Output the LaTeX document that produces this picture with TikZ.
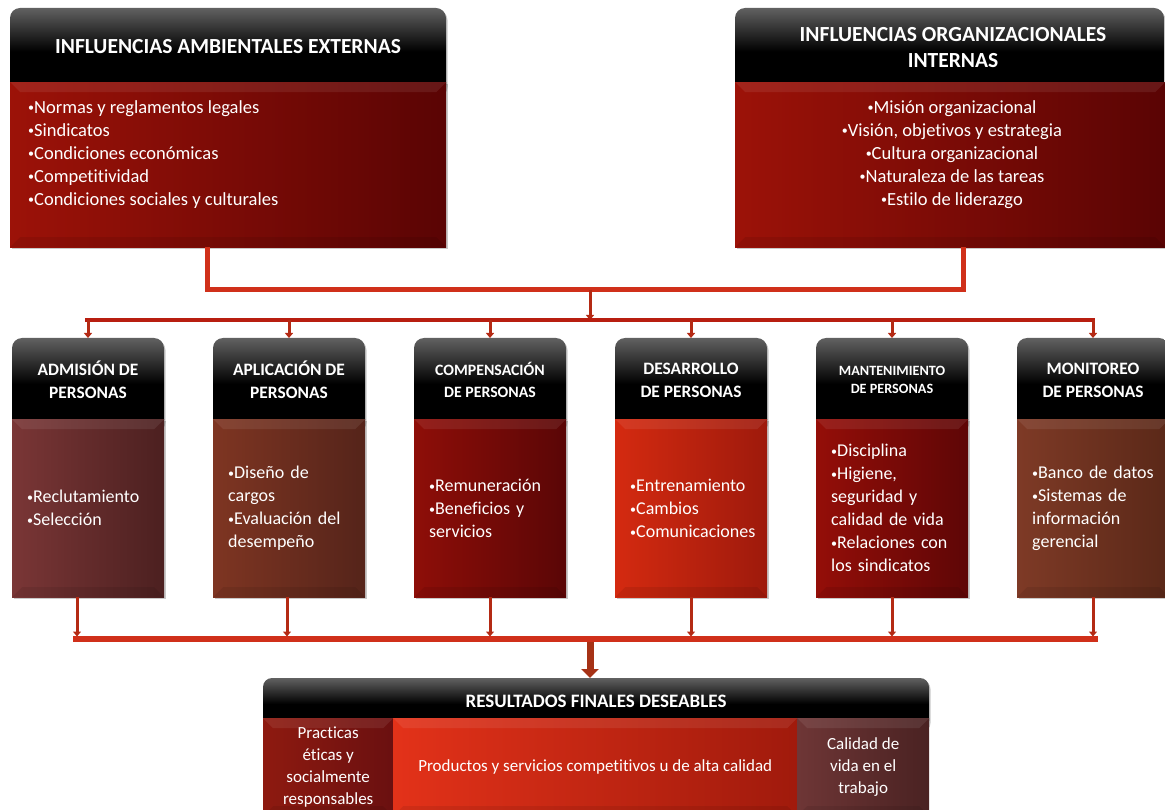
\documentclass[tikz,border=0pt]{standalone}
\usepackage{fontspec}
\setmainfont{Carlito}[Ligatures=NoCommon]
\usetikzlibrary{arrows.meta,shadows,calc}
\definecolor{lineA}{HTML}{D0301A}
\definecolor{lineB}{HTML}{B81E10}
\definecolor{arrowC}{HTML}{B42A14}
\definecolor{bigArrow}{HTML}{A63216}
\newcommand\bu{{\fontsize{12}{12}\selectfont\raisebox{1.2pt}{•}}}
\newcommand\rowbox[8]{%
  \shade[hdrshade,myshadow] (#2,430) -- (#2,338) -- (#2+152,338) -- (#2+152,430) -- cycle;
  \coordinate (t#1) at (#2+76,338);
  \node[hdrtext,font=#3] (h#1) at (#2+76,380) {#4};
  \node[rowbody,left color=#6,right color=#7,anchor=north west,myshadow] (b#1) at (#2,419) {#5};
  \coordinate (s#1) at (#2+76+#8,597);
}
\begin{document}
\begin{tikzpicture}[x=1pt,y=-1pt,
  myshadow/.style={drop shadow={shadow xshift=1.5pt,shadow yshift=-2pt,opacity=0.3,fill=black!70}},
  bevel/.style={path picture={
     \fill[white,opacity=0.08] (path picture bounding box.north west) -- (path picture bounding box.north east)
        -- ([xshift=-10pt,yshift=-10pt]path picture bounding box.north east) -- ([xshift=10pt,yshift=-10pt]path picture bounding box.north west) -- cycle;
     \fill[black,opacity=0.08] (path picture bounding box.south west) -- (path picture bounding box.south east)
        -- ([xshift=-10pt,yshift=10pt]path picture bounding box.south east) -- ([xshift=10pt,yshift=10pt]path picture bounding box.south west) -- cycle;}},
  hdrshade/.style={top color=black!62, bottom color=black, middle color=black, rounded corners=10pt},
  hdrtext/.style={text=white,align=center,inner sep=0pt},
  rowbody/.style={text=white,inner xsep=15pt,inner ysep=0pt,text width=122pt,align=left,bevel,
     minimum width=152pt,minimum height=178pt,font=\fontsize{18}{23}\selectfont},
  subbody/.style={text=white,inner sep=0pt,align=center,minimum height=98pt,anchor=north west,bevel,
     font=\fontsize{17}{22}\selectfont},
  conn/.style={line width=5pt,draw=lineA,line join=miter},
  conn2/.style={line width=4.5pt,draw=lineB},
  arr/.style={line width=3pt,draw=arrowC,-{Triangle[width=8pt,length=5pt]}},
  bigarr/.style={line width=7pt,draw=bigArrow,-{Triangle[width=17pt,length=9pt]}}
]
\useasboundingbox (0,0) rectangle (1165,810);

% ---------- connector end points ----------
\coordinate (jA) at (207,290);
\coordinate (jB) at (963,290);
\coordinate (dTop) at (590,290);
\coordinate (dBot) at (590,320);
\coordinate (hL) at (85,320);
\coordinate (hR) at (1095,320);
\coordinate (bL) at (73,639);
\coordinate (bR) at (1098,639);
\coordinate (fTop) at (590,642);
\coordinate (tRes) at (590,678);

% ---------- top boxes ----------
\shade[hdrshade,myshadow] (10,95) -- (10,8) -- (446,8) -- (446,95) -- cycle;
\node[hdrtext,font=\fontsize{21.5}{26}\bfseries] (tlH) at (228,47) {INFLUENCIAS AMBIENTALES EXTERNAS};
\node[anchor=north west,minimum width=436pt,minimum height=165pt,inner sep=0pt,bevel,
      left color={rgb,255:red,156;green,18;blue,8},right color={rgb,255:red,90;green,4;blue,4},myshadow] (tlB) at (10,82) {};
\node[anchor=north west,text=white,align=left,inner sep=0pt,font=\fontsize{18.5}{23}\selectfont] (tlT) at (28,100)
  {\bu Normas y reglamentos legales\\\bu Sindicatos\\\bu Condiciones económicas\\\bu Competitividad\\\bu Condiciones sociales y culturales};

\shade[hdrshade,myshadow] (735,95) -- (735,8) -- (1164,8) -- (1164,95) -- cycle;
\node[hdrtext,font=\fontsize{21.5}{26}\bfseries] (trH) at (953,48) {INFLUENCIAS ORGANIZACIONALES\\INTERNAS};
\node[anchor=north west,minimum width=430pt,minimum height=165pt,inner sep=0pt,bevel,
      left color={rgb,255:red,156;green,18;blue,8},right color={rgb,255:red,90;green,4;blue,4},myshadow] (trB) at (735,82) {};
\node[anchor=north,text=white,align=center,inner sep=0pt,font=\fontsize{18.5}{23}\selectfont] (trT) at (952,100)
  {\bu Misión organizacional\\\bu Visión, objetivos y estrategia\\\bu Cultura organizacional\\\bu Naturaleza de las tareas\\\bu Estilo de liderazgo};

% ---------- top connectors ----------
\draw[conn] (tlB.south -| jA) -- (jA) -- (jB) -- (trB.south -| jB);
\draw[arr] (dTop) -- (dBot);
\draw[conn2] (hL) -- (hR);

% ---------- row boxes ----------
\rowbox{Adm}{12}{\fontsize{17.4}{23}\bfseries}{ADMISIÓN DE\\PERSONAS}{\bu Reclutamiento\\\bu Selección}{{rgb,255:red,122;green,54;blue,54}}{{rgb,255:red,76;green,32;blue,32}}{-11}
\rowbox{Apl}{213}{\fontsize{17.4}{23}\bfseries}{APLICACIÓN DE\\PERSONAS}{\bu Diseño de\\cargos\\\bu Evaluación del\\desempeño}{{rgb,255:red,126;green,53;blue,34}}{{rgb,255:red,85;green,36;blue,26}}{-2}
\rowbox{Com}{414}{\fontsize{15.8}{22}\bfseries}{COMPENSACIÓN\\DE PERSONAS}{\bu Remuneración\\\bu Beneficios y\\servicios}{{rgb,255:red,142;green,14;blue,8}}{{rgb,255:red,90;green,6;blue,6}}{0}
\rowbox{Des}{615}{\fontsize{17.4}{23}\bfseries}{DESARROLLO\\DE PERSONAS}{\bu Entrenamiento\\\bu Cambios\\\bu Comunicaciones}{{rgb,255:red,212;green,42;blue,16}}{{rgb,255:red,158;green,26;blue,12}}{0}
\rowbox{Man}{816}{\fontsize{14.2}{18}\bfseries}{MANTENIMIENTO\\DE PERSONAS}{\bu Disciplina\\\bu Higiene,\\seguridad y\\calidad de vida\\\bu Relaciones con\\los sindicatos}{{rgb,255:red,148;green,14;blue,8}}{{rgb,255:red,94;green,6;blue,6}}{0}
\rowbox{Mon}{1017}{\fontsize{17.4}{23}\bfseries}{MONITOREO\\DE PERSONAS}{\bu Banco de datos\\\bu Sistemas de\\información\\gerencial}{{rgb,255:red,126;green,58;blue,38}}{{rgb,255:red,90;green,40;blue,24}}{0}

\foreach \b in {Adm,Apl,Com,Des,Man,Mon}{
  \draw[arr] (t\b |- hL) -- (t\b);
  \draw[arr,shorten >=2.5pt] (s\b) -- (s\b |- bL);
}
\draw[conn,line width=6pt] (bL) -- (bR);
\draw[bigarr] (fTop) -- (tRes);

% ---------- bottom box ----------
\shade[hdrshade,rounded corners=9pt,myshadow] (263,730) -- (263,678) -- (929,678) -- (929,730) -- cycle;
\node[hdrtext,font=\fontsize{19}{20}\bfseries] (resH) at (596,701) {RESULTADOS FINALES DESEABLES};
\node[subbody,minimum width=130pt,left color={rgb,255:red,142;green,26;blue,16},right color={rgb,255:red,106;green,16;blue,16}] (resL) at (263,718)
  {Practicas\\éticas y\\socialmente\\responsables};
\node[subbody,minimum width=404pt,left color={rgb,255:red,227;green,50;blue,25},right color={rgb,255:red,160;green,26;blue,12}] (resM) at (393,718)
  {Productos y servicios competitivos u de alta calidad};
\node[subbody,minimum width=132pt,left color={rgb,255:red,110;green,54;blue,54},right color={rgb,255:red,74;green,34;blue,34}] (resR) at (797,718)
  {Calidad de\\vida en el\\trabajo};
\end{tikzpicture}
\end{document}
